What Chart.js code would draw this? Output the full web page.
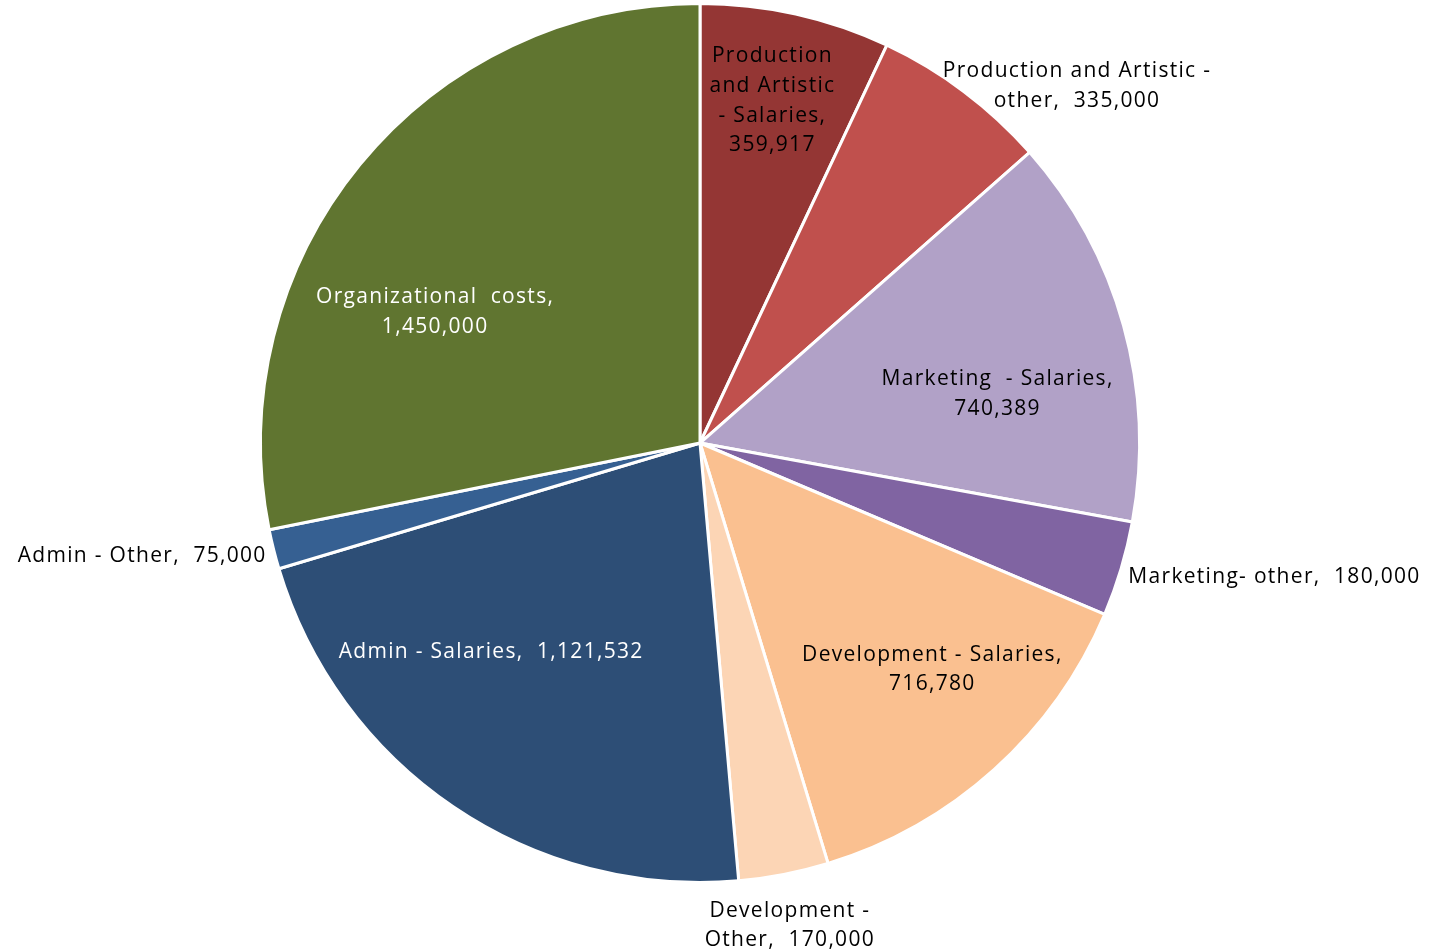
<!DOCTYPE html>
<html>
<head>
<meta charset="utf-8">
<script src="https://cdn.jsdelivr.net/npm/chart.js@4.4.1/dist/chart.umd.min.js"></script>
<style>
  html, body { margin: 0; padding: 0; background: #ffffff; }
  #wrap { width: 1429px; height: 950px; }
</style>
</head>
<body>
<div id="wrap"><canvas id="budget-pie" width="1429" height="950"></canvas></div>
<script>
// categories and values, clockwise from 12 o'clock
const categories = [
    'Production and Artistic - Salaries',
    'Production and Artistic - other',
    'Marketing  - Salaries',
    'Marketing- other',
    'Development - Salaries',
    'Development - Other',
    'Admin - Salaries',
    'Admin - Other',
    'Organizational  costs'
];
const values = [359917, 335000, 740389, 180000, 716780, 170000, 1121532, 75000, 1450000];

// label text with line breaks, {v} = formatted value
const labelText = [
    'Production\nand Artistic\n- Salaries,\n{v}',
    'Production and Artistic -\nother,  {v}',
    'Marketing  - Salaries,\n{v}',
    'Marketing- other,  {v}',
    'Development - Salaries,\n{v}',
    'Development -\nOther,  {v}',
    'Admin - Salaries,  {v}',
    'Admin - Other,  {v}',
    'Organizational  costs,\n{v}'
];

const sliceColors = ['#943634', '#C0504D', '#B1A1C7', '#8064A2', '#FAC090', '#FCD5B5', '#2D4E76', '#366092', '#607530'];

// where each label sits: radius as fraction of pie radius, angle nudge in degrees, alignment
const labelPlace = [
    { r: 0.80, da: -0.7, align: 'center', color: '#000' },
    { r: 1.185, da: 9.5, align: 'center', color: '#000' },
    { r: 0.687, da: 5.8, align: 'center', color: '#000' },
    { r: 1.02, da: 0.5, align: 'left', color: '#000' },
    { r: 0.735, da: -4, align: 'center', color: '#000' },
    { r: 1.112, da: 0.4, align: 'center', color: '#000' },
    { r: 0.669, da: 11.1, align: 'center', color: '#fff' },
    { r: 1.018, da: -0.4, align: 'right', color: '#000' },
    { r: 0.674, da: -12.7, align: 'center', color: '#fff' }
];

const sliceLabels = {
    id: 'sliceLabels',
    afterDatasetsDraw(chart) {
        const ctx = chart.ctx;
        const meta = chart.getDatasetMeta(0);
        const lineH = 29.7;
        ctx.save();
        ctx.font = '21px "Open Sans", sans-serif';
        ctx.letterSpacing = '1.3px';
        ctx.textBaseline = 'middle';
        meta.data.forEach((arc, i) => {
            const p = arc.getProps(['x', 'y', 'startAngle', 'endAngle', 'outerRadius'], true);
            const place = labelPlace[i];
            const mid = (p.startAngle + p.endAngle) / 2 + place.da * Math.PI / 180;
            const cx = p.x + Math.cos(mid) * p.outerRadius * place.r;
            const cy = p.y + Math.sin(mid) * p.outerRadius * place.r + 2;
            const txt = labelText[i].replace('{v}', values[i].toLocaleString('en-US'));
            const lines = txt.split('\n');
            ctx.fillStyle = place.color;
            ctx.textAlign = place.align;
            const top = cy - (lines.length - 1) * lineH / 2;
            lines.forEach((ln, k) => ctx.fillText(ln, cx, top + k * lineH));
        });
        ctx.restore();
    }
};

document.addEventListener('DOMContentLoaded', () => {
    new Chart(document.getElementById('budget-pie'), {
        type: 'pie',
        data: {
            labels: categories,
            datasets: [{
                data: values,
                backgroundColor: sliceColors,
                borderColor: '#ffffff',
                borderWidth: 3
            }]
        },
        options: {
            responsive: false,
            animation: false,
            layout: { padding: { top: 2, bottom: 66, left: 0, right: 29 } },
            plugins: {
                legend: { display: false },
                tooltip: { enabled: false }
            }
        },
        plugins: [sliceLabels]
    });
});
</script>
</body>
</html>
